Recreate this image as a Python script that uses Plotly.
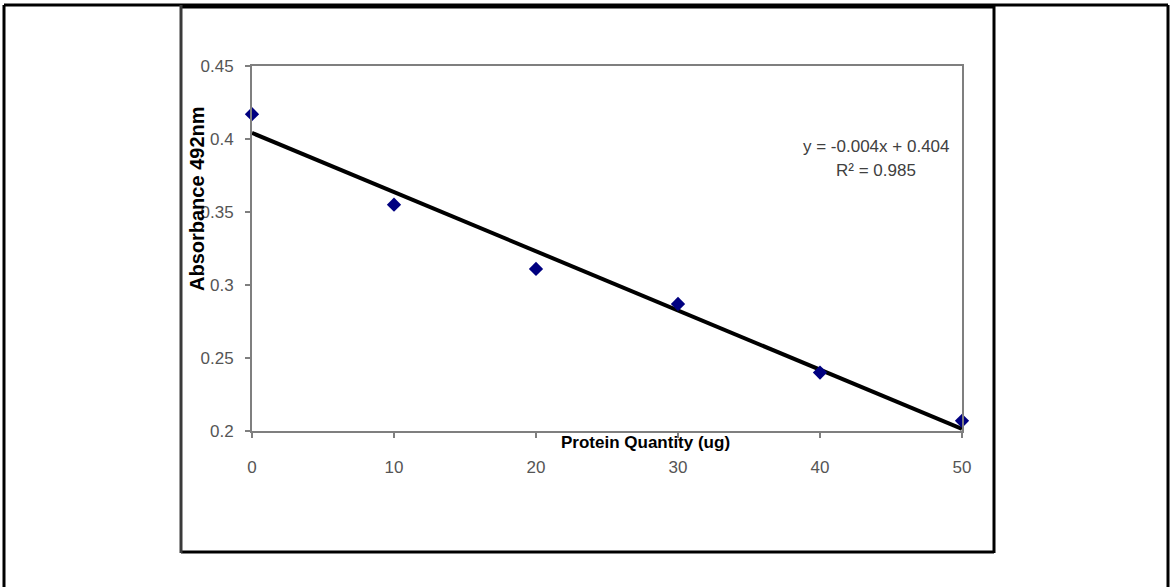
import numpy as np
import plotly.graph_objects as go

# Standard curve: protein quantity vs absorbance at 492 nm
protein_ug = [0, 10, 20, 30, 40, 50]
absorbance = [0.417, 0.355, 0.311, 0.287, 0.240, 0.207]
x_ticks = [0, 10, 20, 30, 40, 50]
y_ticks = [0.2, 0.25, 0.3, 0.35, 0.4, 0.45]
y_tick_text = ["0.2", "0.25", "0.3", "0.35", "0.4", "0.45"]

W, H = 1170, 587

# Linear least-squares fit for the trendline
slope, intercept = np.polyfit(protein_ug, absorbance, 1)
pred = np.polyval([slope, intercept], protein_ug)
ss_res = float(np.sum((np.array(absorbance) - pred) ** 2))
ss_tot = float(np.sum((np.array(absorbance) - np.mean(absorbance)) ** 2))
r2 = 1 - ss_res / ss_tot
fit_x = [min(protein_ug), max(protein_ug)]
fit_y = list(np.polyval([slope, intercept], fit_x))


def px(x):
    """Pixel column -> paper fraction."""
    return x / W


def py(y):
    """Pixel row (from top) -> paper fraction."""
    return 1 - y / H


FONT = "Liberation Sans, Arial, sans-serif"
GREY_TXT = "#555555"
AXIS_GREY = "#7f7f7f"

fig = go.Figure()
fig.add_trace(go.Scatter(
    x=fit_x, y=fit_y, mode="lines",
    line=dict(color="black", width=4),
    hoverinfo="skip", showlegend=False, cliponaxis=False,
))
fig.add_trace(go.Scatter(
    x=protein_ug, y=absorbance, mode="markers",
    marker=dict(symbol="diamond", size=11, color="#000080"),
    showlegend=False, cliponaxis=False,
))

fig.update_layout(
    width=W, height=H,
    margin=dict(l=0, r=0, t=0, b=0, pad=0, autoexpand=False),
    paper_bgcolor="white", plot_bgcolor="white",
    font=dict(family=FONT, color=GREY_TXT, size=17),
    xaxis=dict(
        domain=[px(252), px(962)], range=[0, 50], automargin=False,
        tickvals=x_ticks, ticktext=[str(v) for v in x_ticks],
        ticks="outside", ticklen=5, tickcolor=AXIS_GREY, tickwidth=1.5,
        showline=True, linecolor=AXIS_GREY, linewidth=2, mirror=True,
        showgrid=False, zeroline=False,
        ticklabelstandoff=15,
        tickfont=dict(size=17, color=GREY_TXT),
    ),
    yaxis=dict(
        domain=[py(431), py(66)], range=[0.2, 0.45], automargin=False,
        tickvals=y_ticks, ticktext=y_tick_text,
        ticks="outside", ticklen=5, tickcolor=AXIS_GREY, tickwidth=1.5,
        showline=True, linecolor=AXIS_GREY, linewidth=2, mirror=True,
        showgrid=False, zeroline=False,
        ticklabelstandoff=8,
        tickfont=dict(size=17, color=GREY_TXT),
    ),
)

# Axis titles
fig.add_annotation(
    x=px(645), y=py(442), xref="paper", yref="paper",
    text="<b>Protein Quantity (ug)</b>", showarrow=False,
    font=dict(size=17, color="black", family=FONT),
    xanchor="center", yanchor="middle",
)
fig.add_annotation(
    x=px(197), y=py(199), xref="paper", yref="paper",
    text="<b>Absorbance 492nm</b>", showarrow=False, textangle=-90,
    font=dict(size=20, color="black", family=FONT),
    xanchor="center", yanchor="middle",
)

# Trendline equation and fit quality
fig.add_annotation(
    x=px(876), y=py(147), xref="paper", yref="paper",
    text=f"y = {slope:.3f}x + {intercept:.3f}", showarrow=False,
    font=dict(size=17, color="#404040", family=FONT),
    xanchor="center", yanchor="middle",
)
fig.add_annotation(
    x=px(876), y=py(170), xref="paper", yref="paper",
    text=f"R² = {r2:.3f}", showarrow=False,
    font=dict(size=17, color="#404040", family=FONT),
    xanchor="center", yanchor="middle",
)


def seg(x0, y0, x1, y1, color="black", width=3):
    fig.add_shape(type="line", xref="paper", yref="paper",
                  x0=px(x0), y0=py(y0), x1=px(x1), y1=py(y1),
                  line=dict(color=color, width=width))


# outer cell border (open at the bottom)
seg(4, 5, 1168, 5, width=3)
seg(4, 5, 4, 587, width=3)
seg(1168, 5, 1168, 587, width=3)
# chart box
seg(181, 6.5, 994, 6.5, width=4)
seg(994, 5, 994, 553, width=3)
seg(181, 552, 994, 552, width=3)
seg(181, 5, 181, 553, color="#3a3a3a", width=3)

fig.write_html("out.html")
